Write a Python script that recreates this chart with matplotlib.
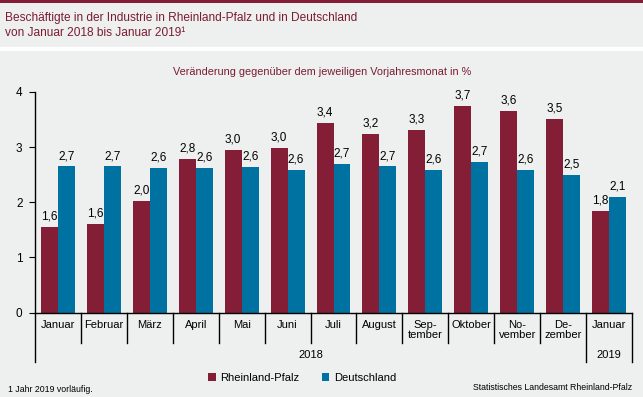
import matplotlib
matplotlib.use("Agg")
import matplotlib.pyplot as plt
import matplotlib.transforms as mtransforms
from matplotlib.patches import Rectangle
from matplotlib import font_manager
import numpy as np

plt.rcParams['font.family'] = ['Liberation Sans', 'DejaVu Sans']
names = {f.name for f in font_manager.fontManager.ttflist}
TITLE_FAM = ['Liberation Sans Narrow', 'DejaVu Sans'] if 'Liberation Sans Narrow' in names else ['Liberation Sans', 'DejaVu Sans']
TITLE_FS = 10.5 if 'Liberation Sans Narrow' in names else 8.6

months = ["Januar", "Februar", "März", "April", "Mai", "Juni", "Juli", "August",
          "Sep-\ntember", "Oktober", "No-\nvember", "De-\nzember", "Januar"]
years = ["2018", "2019"]
rlp = [1.56, 1.61, 2.02, 2.78, 2.95, 2.98, 3.44, 3.24, 3.31, 3.75, 3.65, 3.51, 1.85]
de = [2.65, 2.65, 2.62, 2.62, 2.64, 2.58, 2.69, 2.65, 2.58, 2.73, 2.58, 2.49, 2.09]
rlp_lbl = ["1,6", "1,6", "2,0", "2,8", "3,0", "3,0", "3,4", "3,2", "3,3", "3,7", "3,6", "3,5", "1,8"]
de_lbl = ["2,7", "2,7", "2,6", "2,6", "2,6", "2,6", "2,7", "2,7", "2,6", "2,7", "2,6", "2,5", "2,1"]
series = ["Rheinland-Pfalz", "Deutschland"]

C_RLP = "#841d36"
C_DE = "#0072a1"
BG = "#eeefef"
DARK = "#7a1c33"

W, H = 643, 397
fig = plt.figure(figsize=(W / 100, H / 100), dpi=100)
fig.patch.set_facecolor(BG)

# header decorations
fig.patches.append(Rectangle((0, 1 - 3 / H), 1, 3 / H, transform=fig.transFigure,
                             facecolor=C_RLP, edgecolor="none", zorder=0))
fig.patches.append(Rectangle((0, 1 - 51 / H), 1, 4 / H, transform=fig.transFigure,
                             facecolor="white", edgecolor="none", zorder=0))

fig.text(5 / W, 1 - 18 / H, "Beschäftigte in der Industrie in Rheinland-Pfalz und in Deutschland",
         color=DARK, fontsize=TITLE_FS, va="center", ha="left", family=TITLE_FAM)
fig.text(5 / W, 1 - 33 / H, "von Januar 2018 bis Januar 2019\u00b9",
         color=DARK, fontsize=TITLE_FS, va="center", ha="left", family=TITLE_FAM)
fig.text(322 / W, 1 - 72 / H, "Veränderung gegenüber dem jeweiligen Vorjahresmonat in %",
         color=DARK, fontsize=7.8, va="center", ha="center")

ax = fig.add_axes([35 / W, 1 - 312.5 / H, (632 - 35) / W, (312.5 - 92) / H])
ax.set_facecolor(BG)
x = np.arange(len(months))
bw = 0.37
b1 = ax.bar(x - bw / 2, rlp, bw, color=C_RLP, label=series[0], zorder=2)
b2 = ax.bar(x + bw / 2, de, bw, color=C_DE, label=series[1], zorder=2)
for xi, v, t in zip(x, rlp, rlp_lbl):
    ax.text(xi - bw / 2, v + 0.08, t, ha="center", va="bottom", fontsize=8.5, color="black")
for xi, v, t in zip(x, de, de_lbl):
    ax.text(xi + bw / 2, v + 0.08, t, ha="center", va="bottom", fontsize=8.5, color="black")

ax.set_xlim(-0.5, len(months) - 0.5)
ax.set_ylim(0, 4)
ax.set_yticks([0, 1, 2, 3, 4])
ax.tick_params(axis="y", direction="out", length=4, width=0.8, labelsize=8.5, pad=5)
ax.set_xticks([])
for s in ["top", "right"]:
    ax.spines[s].set_visible(False)
ax.spines["left"].set_linewidth(1.0)
ax.spines["bottom"].set_linewidth(1.0)

trans = mtransforms.blended_transform_factory(ax.transData, ax.transAxes)
ph = (312.5 - 92)  # axes height in px
def ay(py):
    return -(py - 312.5) / ph

for i in range(len(months) + 1):
    xs = i - 0.5
    long = i in (0, 12, 13)
    y_end = 362 if long else 343
    ax.plot([xs, xs], [0, ay(y_end)], transform=trans, color="black", lw=1.0, clip_on=False)

for i, m in enumerate(months):
    ax.text(i, ay(320), m, transform=trans, ha="center", va="top", fontsize=8,
            linespacing=1.05)
ax.text(5.5, ay(355), years[0], transform=trans, ha="center", va="center", fontsize=8)
ax.text(12, ay(355), years[1], transform=trans, ha="center", va="center", fontsize=8)

fig.legend(handles=[b1, b2], labels=series, loc="center", bbox_to_anchor=(302 / W, 1 - 378 / H),
           ncol=2, frameon=False, fontsize=8, handlelength=0.7, handleheight=0.7,
           handletextpad=0.4, columnspacing=2.0)

fig.text(8 / W, 1 - 389 / H, "1 Jahr 2019 vorläufig.", fontsize=6.3, va="center", ha="left")
fig.text(632 / W, 1 - 388 / H, "Statistisches Landesamt Rheinland-Pfalz", fontsize=6.3,
         va="center", ha="right")

fig.savefig("out.png", dpi=100, facecolor=BG)
